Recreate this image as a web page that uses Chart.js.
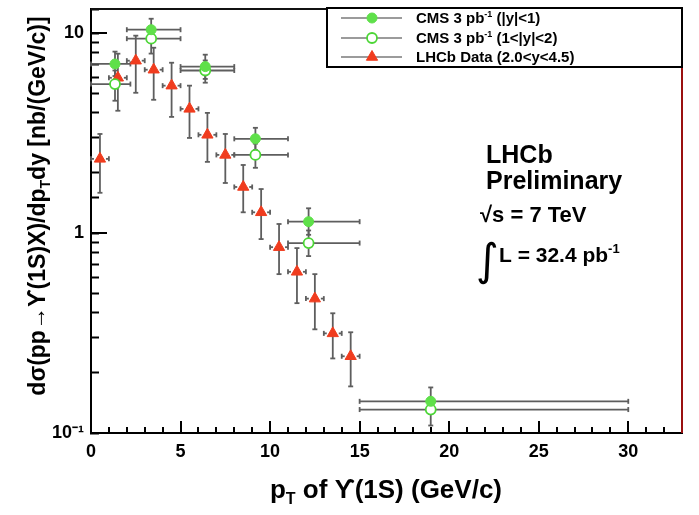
<!DOCTYPE html>
<html><head><meta charset="utf-8">
<script src="https://cdn.jsdelivr.net/npm/chart.js@4.4.1/dist/chart.umd.min.js"></script>
<style>html,body{margin:0;padding:0;background:#fff}</style>
</head><body>
<canvas id="c" width="699" height="515" style="width:699px;height:515px;display:block"></canvas>
<script>
// ---------- data ----------
const lhcbPt   = [0.5,1.5,2.5,3.5,4.5,5.5,6.5,7.5,8.5,9.5,10.5,11.5,12.5,13.5,14.5];
const lhcbVal  = [2.35,5.98,7.28,6.56,5.46,4.18,3.10,2.46,1.70,1.27,0.85,0.64,0.47,0.315,0.242];
const lhcbHi   = [3.13,7.89,9.71,8.45,7.11,5.46,3.99,3.13,2.19,1.66,1.11,0.841,0.623,0.397,0.319];
const lhcbLo   = [1.59,4.09,5.03,4.64,3.81,2.99,2.27,1.78,1.27,0.933,0.623,0.446,0.330,0.236,0.171];
const lhcbHalfWidth = 0.5;

const cmsPt    = [1.34,3.36,6.38,9.18,12.15,18.97];
const cmsBinLo = [0,2,5,8,11,15];
const cmsBinHi = [2.2,5,8,11,15,30];
const cmsCentral    = [7.01,10.4,6.8,2.96,1.14,0.144];
const cmsCentralHi  = [8.08,11.8,7.8,3.36,1.33,0.169];
const cmsCentralLo  = [6.10,9.10,5.90,2.60,0.98,0.125];
const cmsForward    = [5.56,9.38,6.5,2.46,0.891,0.131];
const cmsForwardHi  = [6.50,10.6,7.3,2.80,1.03,0.150];
const cmsForwardLo  = [4.59,7.90,5.65,2.12,0.767,0.109];

const xTickLabels = [0,5,10,15,20,25,30];
const yTickLabels = {0.1:'10\u207B\u00B9', 1:'1', 10:'10'};
const yMajorTicks = [1,10];

const legendLabels = [
  ['CMS 3 pb','-1',' (|y|<1)'],
  ['CMS 3 pb','-1',' (1<|y|<2)'],
  ['LHCb Data (2.0<y<4.5)','','']
];

// ---------- styles ----------
const FONT = "'Liberation Sans', Arial, Helvetica, sans-serif";
const GREEN = '#5fe04a', GREEN_RING = '#4cd636', RED = '#f03c1e', BAR = '#5e5e5e';

const errPlugin = {
  id: 'errbars',
  beforeDatasetsDraw(chart) {
    const {ctx, scales:{x, y}} = chart;
    ctx.save();
    ctx.strokeStyle = BAR; ctx.lineWidth = 1.8;
    const seg = (a,b,c,d)=>{ctx.beginPath();ctx.moveTo(a,b);ctx.lineTo(c,d);ctx.stroke();};
    const cms = (vals, lo, hi) => {
      vals.forEach((v,i)=>{
        const px = x.getPixelForValue(cmsPt[i]), py = y.getPixelForValue(v);
        const xl = x.getPixelForValue(cmsBinLo[i]), xr = x.getPixelForValue(cmsBinHi[i]);
        seg(xl,py,xr,py); seg(xl,py-2.5,xl,py+2.5); seg(xr,py-2.5,xr,py+2.5);
        const yt = y.getPixelForValue(hi[i]), yb = y.getPixelForValue(lo[i]);
        seg(px,yt,px,yb); seg(px-2.5,yt,px+2.5,yt); seg(px-2.5,yb,px+2.5,yb);
      });
    };
    cms(cmsForward, cmsForwardLo, cmsForwardHi);
    cms(cmsCentral, cmsCentralLo, cmsCentralHi);
    lhcbVal.forEach((v,i)=>{
      const px = x.getPixelForValue(lhcbPt[i]), py = y.getPixelForValue(v);
      const yt = y.getPixelForValue(lhcbHi[i]), yb = y.getPixelForValue(lhcbLo[i]);
      seg(px,yt,px,yb); seg(px-2.5,yt,px+2.5,yt); seg(px-2.5,yb,px+2.5,yb);
      const xl = x.getPixelForValue(lhcbPt[i]-lhcbHalfWidth), xr = x.getPixelForValue(lhcbPt[i]+lhcbHalfWidth);
      seg(xl,py,px-6,py); seg(px+6,py,xr,py);
      seg(xl,py-2.5,xl,py+2.5); seg(xr,py-2.5,xr,py+2.5);
    });
    // longer major ticks on the y axis (ROOT style, inside the frame)
    ctx.fillStyle = '#000';
    yMajorTicks.forEach(v => {
      const py = Math.round(y.getPixelForValue(v));
      ctx.fillRect(Math.round(chart.chartArea.left), py - 1, 16, 2);
    });
    // x ticks inside the frame
    for (let k = 1; k < 33; k++) {
      const px = Math.round(x.getPixelForValue(k));
      const len = (k % 5 === 0) ? 12 : 6;
      ctx.fillRect(px - 1, Math.round(chart.chartArea.bottom) - len, 2, len);
    }
    ctx.restore();
  }
};

function drawSup(ctx, parts, x0, yb, size, supShift) {
  ctx.font = `bold ${size}px ${FONT}`;
  ctx.fillText(parts[0], x0, yb);
  let xx = x0 + ctx.measureText(parts[0]).width;
  if (parts[1]) {
    const s = Math.round(size*0.62);
    ctx.font = `bold ${s}px ${FONT}`;
    ctx.fillText(parts[1], xx, yb + supShift);
    xx += ctx.measureText(parts[1]).width;
  }
  ctx.font = `bold ${size}px ${FONT}`;
  if (parts[2]) { ctx.fillText(parts[2], xx, yb); xx += ctx.measureText(parts[2]).width; }
  return xx;
}
function widthOf(ctx, parts, size) {
  ctx.font = `bold ${size}px ${FONT}`;
  let w = ctx.measureText(parts[0]).width + ctx.measureText(parts[2]||'').width;
  ctx.font = `bold ${Math.round(size*0.62)}px ${FONT}`;
  w += ctx.measureText(parts[1]||'').width;
  return w;
}

const decoPlugin = {
  id: 'deco',
  afterDraw(chart) {
    const ctx = chart.ctx, ca = chart.chartArea;
    ctx.save();
    // frame top and right
    ctx.fillStyle = '#111';
    ctx.fillRect(ca.left, ca.top-1, ca.right-ca.left, 2);
    ctx.fillStyle = '#9a1010';
    ctx.fillRect(ca.right-1, ca.top-1, 2, ca.bottom-ca.top+1);

    ctx.textAlign = 'left'; ctx.textBaseline = 'alphabetic';
    // legend
    const lx0 = 327, ly0 = 8, lx1 = 682, ly1 = 67;
    ctx.fillStyle = '#fff'; ctx.fillRect(lx0, ly0, lx1-lx0, ly1-ly0);
    ctx.strokeStyle = '#000'; ctx.lineWidth = 2; ctx.strokeRect(lx0, ly0, lx1-lx0, ly1-ly0);
    const rows = [18, 38, 57];
    chart.data.datasets.forEach((ds,i)=>{
      const ry = rows[i];
      ctx.strokeStyle = '#7a7a7a'; ctx.lineWidth = 1.5;
      ctx.beginPath(); ctx.moveTo(341, ry); ctx.lineTo(402, ry); ctx.stroke();
      ctx.fillStyle = ds.backgroundColor; ctx.strokeStyle = ds.borderColor; ctx.lineWidth = ds.borderWidth;
      ctx.beginPath();
      if (ds.pointStyle==='triangle') {
        const r = ds.pointRadius;
        ctx.moveTo(372, ry - r); ctx.lineTo(372 + r*0.866, ry + r/2); ctx.lineTo(372 - r*0.866, ry + r/2); ctx.closePath();
      } else { ctx.arc(372, ry, ds.pointRadius, 0, Math.PI*2); }
      ctx.fill(); ctx.stroke();
      ctx.fillStyle = '#000';
      drawSup(ctx, legendLabels[i], 416, ry+5, 15, -6);
    });
    // LHCb text
    ctx.fillStyle = '#000';
    ctx.font = `bold 25px ${FONT}`;
    ctx.fillText('LHCb', 486, 163);
    ctx.fillText('Preliminary', 486, 189);
    ctx.font = `bold 22px ${FONT}`;
    ctx.fillText('\u221As = 7 TeV', 480, 222);
    ctx.font = `44px 'DejaVu Sans'`;
    ctx.fillText('\u222B', 476, 275);
    drawSup(ctx, ['L = 32.4 pb','-1',''], 499, 262, 21, -9);
    // axis titles
    let size = 26;
    const xParts = ['p','T',' of \u03D2(1S) (GeV/c)'];
    const wx = widthOf(ctx, xParts, size);
    drawSup(ctx, xParts, 386 - wx/2, 498, size, 6);
    size = 23;
    ctx.translate(45, 206); ctx.rotate(-Math.PI/2);
    const yParts = ['d\u03C3(pp\u2192\u03D2(1S)X)/dp','T','dy [nb/(GeV/c)]'];
    const wy = widthOf(ctx, yParts, size);
    drawSup(ctx, yParts, -wy/2, 0, size, 5);
    ctx.restore();
  }
};

const fixFit = (s, w, h) => { if (w) s.width = w; if (h) s.height = h; s.paddingTop = 0; s.paddingBottom = 0; s.paddingLeft = 0; s.paddingRight = 0; };

new Chart(document.getElementById('c'), {
  type: 'scatter',
  data: {
    datasets: [
      { label: 'CMS 3 pb-1 (|y|<1)', data: cmsPt.map((v,i)=>({x:v, y:cmsCentral[i]})),
        pointStyle: 'circle', pointRadius: 5, backgroundColor: GREEN, borderColor: GREEN, borderWidth: 1 },
      { label: 'CMS 3 pb-1 (1<|y|<2)', data: cmsPt.map((v,i)=>({x:v, y:cmsForward[i]})),
        pointStyle: 'circle', pointRadius: 5, backgroundColor: '#ffffff', borderColor: GREEN_RING, borderWidth: 1.8 },
      { label: 'LHCb Data (2.0<y<4.5)', data: lhcbPt.map((v,i)=>({x:v, y:lhcbVal[i]})),
        pointStyle: 'triangle', pointRadius: 6.5, backgroundColor: RED, borderColor: RED, borderWidth: 1 }
    ]
  },
  options: {
    responsive: false, animation: false, devicePixelRatio: 1,
    layout: { padding: { left: 0, top: 9, right: 17, bottom: 0 } },
    plugins: { legend: { display: false }, tooltip: { enabled: false } },
    scales: {
      x: {
        type: 'linear', min: 0, max: 33,
        grid: { display: false, drawTicks: false },
        border: { display: true, color: '#000', width: 2 },
        ticks: { stepSize: 1, autoSkip: false, maxRotation: 0, padding: 8, color: '#000',
          font: { family: FONT, size: 18, weight: 'bold' },
          callback: v => xTickLabels.includes(v) ? String(v) : '' },
        afterFit: s => fixFit(s, null, 82)
      },
      y: {
        type: 'logarithmic', min: 0.1, max: 13.2,
        grid: { display: true, drawOnChartArea: false, drawTicks: true, tickLength: -8, tickWidth: 2, tickColor: '#000' },
        border: { display: true, color: '#000', width: 2 },
        ticks: { autoSkip: false, padding: 15, color: '#000',
          font: { family: FONT, size: 18, weight: 'bold' },
          callback: v => { for (const k in yTickLabels) if (Math.abs(v - Number(k)) < 1e-9) return yTickLabels[k]; return ''; } },
        afterFit: s => fixFit(s, 91, null)
      }
    }
  },
  plugins: [errPlugin, decoPlugin]
});
</script>
</body></html>
